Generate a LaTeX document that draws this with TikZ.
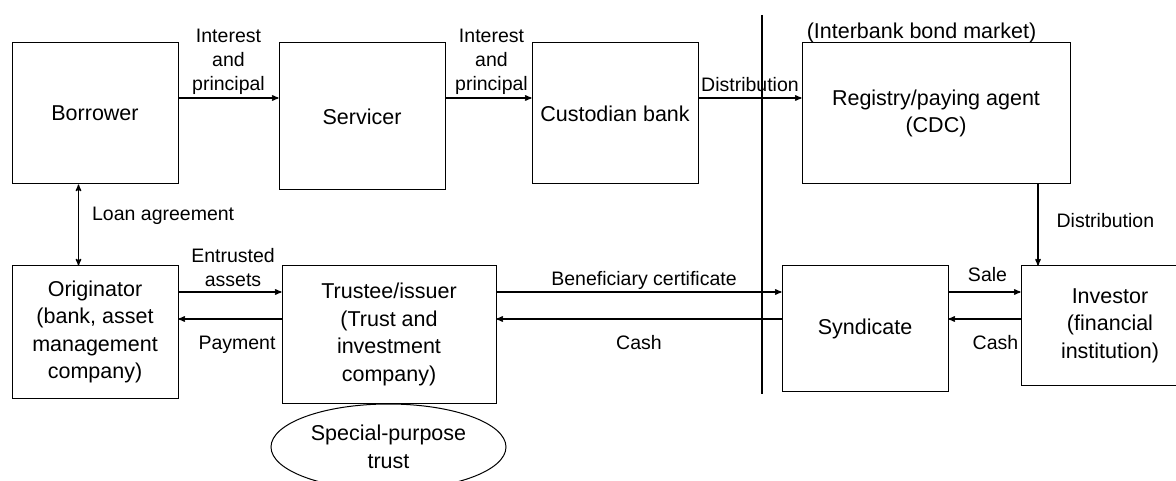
\documentclass[tikz,border=0pt]{standalone}
\usepackage{fontspec}
\setmainfont{Liberation Sans}
\usepackage{tikz}
\usetikzlibrary{arrows, shapes}
\newcommand{\boxfont}{\fontsize{21.5}{27.5}\selectfont}
\newcommand{\flowfont}{\fontsize{19.5}{24}\selectfont}
\tikzset{
		party/.style={draw, rectangle, line width=1pt, align=center, font=\boxfont, inner sep=2pt},
		vehicle/.style={draw, ellipse, line width=1pt, align=center, font=\boxfont, inner sep=1pt},
		flow/.style={font=\flowfont, align=center, inner sep=1pt},
		divider/.style={line width=1.3pt}
	}

\begin{document}
\begin{tikzpicture}[x=1pt, y=-1pt, >=stealth', line width=1.3pt]
				\clip (0,0) rectangle (1176,481);
				\node[party, minimum width=166pt, minimum height=141pt] (borrower)   at (95,113.5)  {Borrower};
				\node[party, minimum width=166pt, minimum height=147pt] (servicer)   at (362,116.5) {Servicer};
				\node[party, minimum width=166pt, minimum height=141pt] (custodian)  at (615,113.5) {Custodian bank};
				\node[party, minimum width=268pt, minimum height=141pt] (registry)   at (936,113.5) {Registry/paying agent\\(CDC)};
				\node[party, minimum width=166pt, minimum height=132pt] (originator) at (95,332)    {Originator\\(bank, asset\\management\\company)};
				\node[party, minimum width=214pt, minimum height=137pt] (trustee)    at (389,334.5) {Trustee/issuer\\(Trust and\\investment\\company)};
				\node[party, minimum width=166pt, minimum height=125pt] (syndicate)  at (865,328.5) {Syndicate};
				\node[party, minimum width=178pt, minimum height=119pt] (investor)   at (1110,325.5) {Investor\\(financial\\institution)};
				\node[vehicle, minimum width=235pt, minimum height=86pt] (spt) at (388.5,447) {Special-purpose\\trust};
				\node[font=\boxfont, inner sep=0pt] (market) at (921.5,33) {(Interbank bond market)};
				
				\coordinate (toprow)  at (0,98);
				\coordinate (giverow) at (0,292);
				\coordinate (backrow) at (0,319);
				\coordinate (loancol) at (78.5,0);
				\coordinate (paycol)  at (1038,0);
				\coordinate (divtop)  at (762,15);
				\coordinate (divbot)  at (762,394);
				
				\draw[divider] (divtop) -- (divbot);
				
				\path[->] (borrower.east |- toprow) edge node[flow, above=2pt] {Interest\\and\\principal} (servicer.west |- toprow);
				\path[->] (servicer.east |- toprow) edge node[flow, above=2pt, xshift=3pt] {Interest\\and\\principal} (custodian.west |- toprow);
				\path[->] (custodian.east |- toprow) edge node[flow, above=5pt] {Distribution} (registry.west |- toprow);
				\path[->] (registry.south -| paycol) edge node[flow, right=17pt, pos=0.44] {Distribution} (investor.north -| paycol);
				\path[<->] (borrower.south -| loancol) edge node[flow, right=12pt, pos=0.39] {Loan agreement} (originator.north -| loancol);
				
				\path[->] (originator.east |- giverow) edge node[flow, above=4pt, xshift=3pt] {Entrusted\\assets} (trustee.west |- giverow);
				\path[->] (trustee.west |- backrow) edge node[flow, below=15pt, xshift=7pt] {Payment} (originator.east |- backrow);
				\path[->] (trustee.east |- giverow) edge node[flow, above=1pt, xshift=5pt] {Beneficiary certificate} (syndicate.west |- giverow);
				\path[->] (syndicate.west |- backrow) edge node[flow, below=15pt] {Cash} (trustee.east |- backrow);
				\path[->] (syndicate.east |- giverow) edge node[flow, above=9pt, xshift=3pt] {Sale} (investor.west |- giverow);
				\path[->] (investor.west |- backrow) edge node[flow, below=15pt, xshift=11pt] {Cash} (syndicate.east |- backrow);
			\end{tikzpicture}
\end{document}
